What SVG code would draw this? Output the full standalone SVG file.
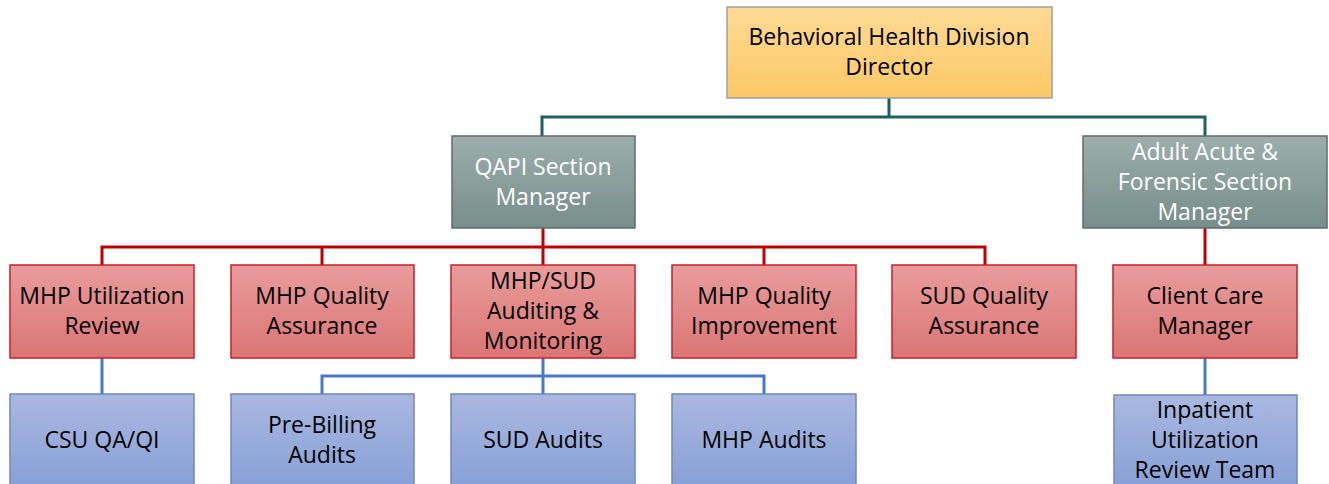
<svg xmlns="http://www.w3.org/2000/svg" width="1329" height="484" viewBox="0 0 1329 484">
<defs>
<linearGradient id="gY" x1="0" y1="0" x2="0" y2="1"><stop offset="0" stop-color="#FFDA95"/><stop offset="1" stop-color="#FBC866"/></linearGradient>
<linearGradient id="gG" x1="0" y1="0" x2="0" y2="1"><stop offset="0" stop-color="#9DAEAB"/><stop offset="1" stop-color="#778E8A"/></linearGradient>
<linearGradient id="gR" x1="0" y1="0" x2="0" y2="1"><stop offset="0" stop-color="#E99C9C"/><stop offset="1" stop-color="#DB7575"/></linearGradient>
<linearGradient id="gB" x1="0" y1="0" x2="0" y2="1"><stop offset="0" stop-color="#A9B8E1"/><stop offset="1" stop-color="#88A0D6"/></linearGradient>
</defs>
<style>
text{font-family:"Open Sans","Noto Sans","Liberation Sans",sans-serif;font-size:23px;text-anchor:middle;fill:#000}
.y{fill:url(#gY);stroke:#A0A0A0;stroke-width:1.5}
.g{fill:url(#gG);stroke:#5E6E6B;stroke-width:1.5}
.r{fill:url(#gR);stroke:#C8202A;stroke-width:1.5}
.b{fill:url(#gB);stroke:#7088C0;stroke-width:1.5}
.w{fill:#fff}
.ct{fill:none;stroke:#1F5F5F;stroke-width:3}
.cr{fill:none;stroke:#C00000;stroke-width:3}
.cb{fill:none;stroke:#4A78C8;stroke-width:3}
</style>
<g id="connectors">
<path class="ct" d="M889 98V117M542 136V117H1205V136"/>
<path class="cr" d="M543 228V247M102 265V247H985V265M322 247V265M543 247V265M764 247V265M1205 228V265"/>
<path class="cb" d="M102 358V394M543 358V394M322 394V376H764V394M1205 358V395"/>
</g>
<g id="director"><rect class="y" x="727" y="7" width="325" height="91"/><text x="889" y="45">Behavioral Health Division</text><text x="889" y="75">Director</text></g>
<g id="qapi"><rect class="g" x="452" y="136" width="183" height="92"/><text class="w" x="543" y="175">QAPI Section</text><text class="w" x="543" y="205">Manager</text></g>
<g id="adult"><rect class="g" x="1083" y="136" width="244" height="92"/><text class="w" x="1205" y="160">Adult Acute &amp;</text><text class="w" x="1205" y="190">Forensic Section</text><text class="w" x="1205" y="220">Manager</text></g>
<g id="mhp-ur"><rect class="r" x="10" y="265" width="184" height="93"/><text x="102" y="304">MHP Utilization</text><text x="102" y="334">Review</text></g>
<g id="mhp-qa"><rect class="r" x="231" y="265" width="183" height="93"/><text x="322" y="304">MHP Quality</text><text x="322" y="334">Assurance</text></g>
<g id="mhp-sud"><rect class="r" x="451" y="265" width="184" height="93"/><text x="543" y="289">MHP/SUD</text><text x="543" y="319">Auditing &amp;</text><text x="543" y="349">Monitoring</text></g>
<g id="mhp-qi"><rect class="r" x="672" y="265" width="184" height="93"/><text x="764" y="304">MHP Quality</text><text x="764" y="334">Improvement</text></g>
<g id="sud-qa"><rect class="r" x="892" y="265" width="184" height="93"/><text x="984" y="304">SUD Quality</text><text x="984" y="334">Assurance</text></g>
<g id="ccm"><rect class="r" x="1113" y="265" width="184" height="93"/><text x="1205" y="304">Client Care</text><text x="1205" y="334">Manager</text></g>
<g id="csu"><rect class="b" x="10" y="394" width="184" height="93"/><text x="102" y="448">CSU QA/QI</text></g>
<g id="prebill"><rect class="b" x="231" y="394" width="183" height="93"/><text x="322" y="433">Pre-Billing</text><text x="322" y="463">Audits</text></g>
<g id="sud-audits"><rect class="b" x="451" y="394" width="184" height="93"/><text x="543" y="448">SUD Audits</text></g>
<g id="mhp-audits"><rect class="b" x="672" y="394" width="184" height="93"/><text x="764" y="448">MHP Audits</text></g>
<g id="inpatient"><rect class="b" x="1114" y="395" width="183" height="92"/><text x="1205" y="418">Inpatient</text><text x="1205" y="448">Utilization</text><text x="1205" y="478">Review Team</text></g>
</svg>
